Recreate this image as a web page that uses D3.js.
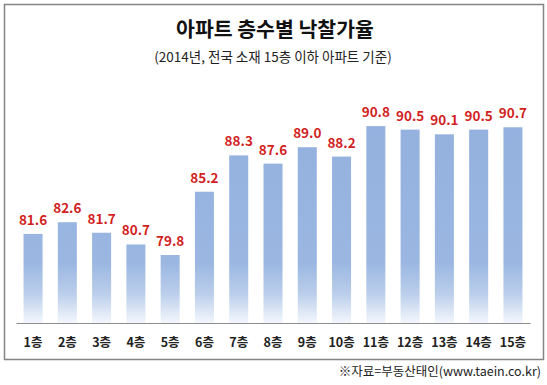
<!DOCTYPE html>
<html>
<head>
<meta charset="utf-8">
<script src="https://cdn.jsdelivr.net/npm/d3@7"></script>
<style>
  body { margin: 0; background: #fff; }
  svg { display: block; font-family: "Noto Sans CJK KR", "Noto Sans", sans-serif; }
</style>
</head>
<body>
<div id="chart"></div>
<script>
  'use strict';

  var floors = ['1층', '2층', '3층', '4층', '5층', '6층', '7층', '8층', '9층', '10층', '11층', '12층', '13층', '14층', '15층'];
  var rates = [81.6, 82.6, 81.7, 80.7, 79.8, 85.2, 88.3, 87.6, 89.0, 88.2, 90.8, 90.5, 90.1, 90.5, 90.7];
  var yDomain = [74, 92];

  var titleText = '아파트 층수별 낙찰가율';
  var subtitleText = '(2014년, 전국 소재 15층 이하 아파트 기준)';
  var sourceText = '※자료=부동산태인(www.taein.co.kr)';

  var width = 547, height = 385;
  var baseY = 323;

  var svg = d3.select('#chart').append('svg')
    .attr('width', width)
    .attr('height', height);

  // outer frame
  svg.append('rect')
    .attr('x', 4.5).attr('y', 4.5)
    .attr('width', 539).attr('height', 355)
    .attr('fill', '#fff')
    .attr('stroke', '#858585')
    .attr('stroke-width', 1.5);

  var xScale = d3.scaleBand().domain(floors).range([16, 530]).paddingInner(0.445).paddingOuter(0.22);
  var yScale = d3.scaleLinear().domain(yDomain).range([baseY, baseY - 18 * 11.72]);

  // fill that fades out near the bottom, shared by all bars
  var grad = svg.append('defs').append('linearGradient')
    .attr('id', 'barFill')
    .attr('gradientUnits', 'userSpaceOnUse')
    .attr('x1', 0).attr('y1', 120).attr('x2', 0).attr('y2', baseY);
  grad.append('stop').attr('offset', 0).attr('stop-color', '#94b1df');
  grad.append('stop').attr('offset', 0.7).attr('stop-color', '#9ab6e1');
  grad.append('stop').attr('offset', 0.86).attr('stop-color', '#bccfeb');
  grad.append('stop').attr('offset', 1).attr('stop-color', '#f4f7fc');

  var data = floors.map(function(f, i) { return { label: f, value: rates[i] }; });

  // title
  svg.append('text')
    .attr('x', 275).attr('y', 37)
    .attr('text-anchor', 'middle')
    .style('font-size', '20.5px')
    .style('font-weight', 'bold')
    .attr('fill', '#111')
    .text(titleText);

  svg.append('text')
    .attr('x', 273).attr('y', 62)
    .attr('text-anchor', 'middle')
    .style('font-size', '13.5px')
    .attr('fill', '#222')
    .text(subtitleText);

  // BARS
  svg.selectAll('.bar')
    .data(data)
    .enter().append('rect')
    .attr('class', 'bar')
    .attr('x', function(d) { return xScale(d.label); })
    .attr('width', xScale.bandwidth())
    .attr('y', function(d) { return yScale(d.value); })
    .attr('height', function(d) { return baseY - yScale(d.value); })
    .attr('fill', 'url(#barFill)');

  // value labels
  svg.selectAll('.val')
    .data(data)
    .enter().append('text')
    .attr('class', 'val')
    .attr('x', function(d) { return xScale(d.label) + xScale.bandwidth() / 2; })
    .attr('y', function(d) { return yScale(d.value) - 9; })
    .attr('text-anchor', 'middle')
    .style('font-size', '13.5px')
    .style('font-weight', 'bold')
    .attr('fill', '#d21f1f')
    .text(function(d) { return d.value.toFixed(1); });

  // X axis
  var xAxis = d3.axisBottom(xScale).tickSize(0).tickPadding(15);
  var gx = svg.append('g')
    .attr('transform', 'translate(0,' + baseY + ')')
    .call(xAxis);
  gx.select('.domain').attr('stroke', '#8c8c8c').attr('stroke-width', 1.2);
  gx.selectAll('text')
    .style('font-size', '12.5px')
    .style('font-weight', 'bold')
    .style('font-family', '"Noto Sans CJK KR", sans-serif')
    .attr('fill', '#222');

  // source
  svg.append('text')
    .attr('x', 541).attr('y', 376)
    .attr('text-anchor', 'end')
    .style('font-size', '12.5px')
    .attr('fill', '#222')
    .text(sourceText);
</script>
</body>
</html>
